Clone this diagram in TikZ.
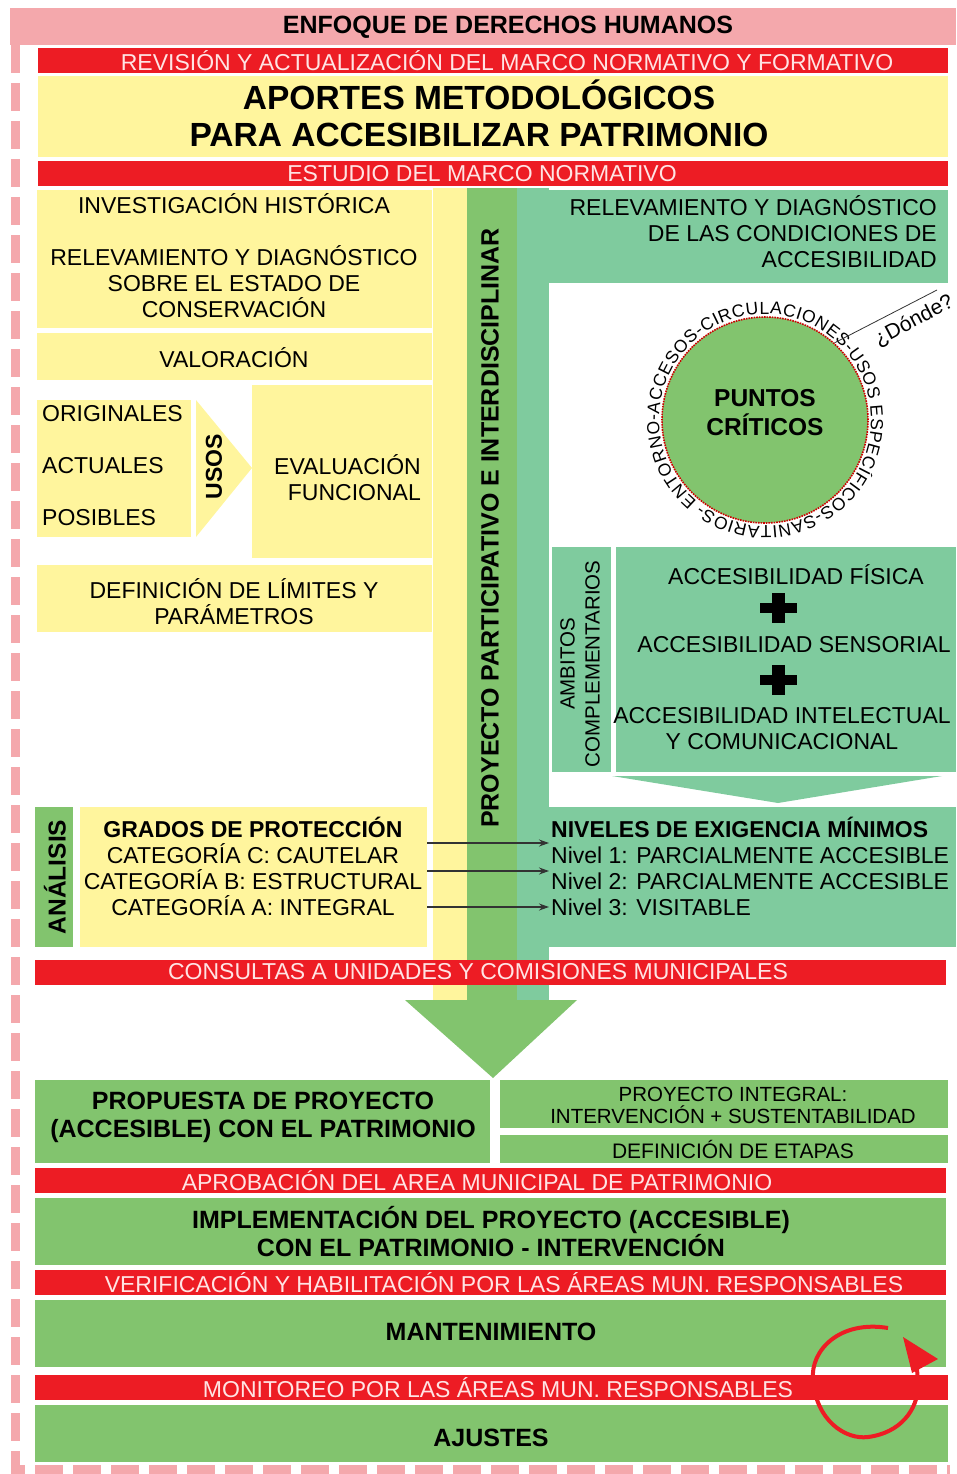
\documentclass[tikz,border=0pt]{standalone}
\usepackage{fontspec}
\setmainfont{Liberation Sans}
\usepackage{tikz}
\usetikzlibrary{arrows.meta,decorations.text}
\definecolor{pinkband}{HTML}{F4A8AC}
\definecolor{redbar}{HTML}{ED1C24}
\definecolor{bartext}{HTML}{FFE4E4}
\definecolor{yellowbox}{HTML}{FFF59D}
\definecolor{greenbox}{HTML}{82C46E}
\definecolor{tealbox}{HTML}{7FCB9E}

\begin{document}
\begin{tikzpicture}[x=1pt,y=-1pt,
  txt/.style={inner sep=0pt,align=center,font=\fontsize{23}{26}\selectfont},
  bartxt/.style={txt,text=bartext},
  boldtxt/.style={txt,font=\fontsize{25}{28}\selectfont\bfseries},
  midtxt/.style={txt,font=\fontsize{23}{26}\selectfont\bfseries},
  link/.style={draw=black!80,line width=1.2pt,-{Stealth[length=10pt,width=7pt]}}]
\useasboundingbox (0,0) rectangle (956,1474);

% frame
\fill[pinkband] (10,8) rectangle (956,45);
\node[txt,font=\fontsize{25}{26}\selectfont\bfseries] (enfoque) at (508,27) {ENFOQUE DE DERECHOS HUMANOS};
\draw[pinkband,line width=9pt,dash pattern=on 28pt off 10pt] (15,45) -- (15,1469) -- (950,1469);

% header
\fill[redbar] (38,48) rectangle (948,73);
\node[bartxt] (revision) at (507,61) {REVISIÓN Y ACTUALIZACIÓN DEL MARCO NORMATIVO Y FORMATIVO};
\fill[yellowbox] (38,76) rectangle (948,157);
\node[txt,font=\fontsize{33.5}{37}\selectfont\bfseries] (titulo) at (479,113) {APORTES METODOLÓGICOS\\PARA ACCESIBILIZAR PATRIMONIO};
\fill[redbar] (38,161) rectangle (948,186);
\node[bartxt] (estudio) at (482,174) {ESTUDIO DEL MARCO NORMATIVO};

% vertical bands
\fill[yellowbox] (433,188) rectangle (467,1000);
\fill[greenbox] (467,188) rectangle (517,1000);
\fill[tealbox] (517,188) rectangle (549,1000);
\node[boldtxt,rotate=90] (proyecto) at (490,528) {PROYECTO PARTICIPATIVO E INTERDISCIPLINAR};

% left column
\fill[yellowbox] (37,190) rectangle (432,328);
\node[txt] (historia) at (234,256) {INVESTIGACIÓN HISTÓRICA\\[26pt]RELEVAMIENTO Y DIAGNÓSTICO\\SOBRE EL ESTADO DE\\CONSERVACIÓN};
\fill[yellowbox] (37,333) rectangle (432,380);
\node[txt] (valoracion) at (234,358) {VALORACIÓN};
\fill[yellowbox] (37,400) rectangle (191,537);
\node[txt,align=left,anchor=west] (usoslista) at (42,466) {ORIGINALES\\[26pt]ACTUALES\\[26pt]POSIBLES};
\fill[yellowbox] (196,400) -- (252,468) -- (196,537) -- cycle;
\node[midtxt,rotate=90] (usos) at (214,467) {USOS};
\fill[yellowbox] (252,385) rectangle (432,558);
\node[txt,align=right,anchor=east] (evaluacion) at (421,478) {EVALUACIÓN\\FUNCIONAL};
\fill[yellowbox] (37,565) rectangle (432,632);
\node[txt] (limites) at (234,602) {DEFINICIÓN DE LÍMITES Y\\PARÁMETROS};

% right column
\fill[tealbox] (549,190) rectangle (948,283);
\node[txt,align=right,anchor=east] (condiciones) at (937,232) {RELEVAMIENTO Y DIAGNÓSTICO\\DE LAS CONDICIONES DE\\ACCESIBILIDAD};
\node[circle,fill=greenbox,draw=red!80!black,densely dotted,line width=1.6pt,minimum size=206pt,inner sep=0pt] (puntos) at (765,420) {};
\node[txt,font=\fontsize{24.5}{29}\selectfont\bfseries] (puntostxt) at (765,413) {PUNTOS\\CRÍTICOS};
\path[decorate,decoration={text along path,text align={fit to path},
  text={|\fontsize{17.5}{18}\selectfont|ENTORNO-ACCESOS-CIRCULACIONES-USOS ESPECÍFICOS-SANITARIOS-}}]
  (puntos.center) ++(130:106) arc[start angle=130,end angle=487,radius=106];
\coordinate (dondefin) at (937,290);
\draw[black!80,line width=0.8pt] (puntos.48) -- (dondefin);
\node[txt,font=\fontsize{21}{24}\selectfont,rotate=28] (donde) at (914,321) {¿Dónde?};

\fill[tealbox] (552,547) rectangle (611,772);
\node[txt,font=\fontsize{20.5}{25}\selectfont,rotate=90] (ambitos) at (580,664) {AMBITOS\\COMPLEMENTARIOS};
\fill[tealbox] (616,547) rectangle (956,772);
\node[txt] (fisica) at (796,575) {ACCESIBILIDAD FÍSICA};
\fill[black] (760,603) rectangle (797,613);
\fill[black] (772,593) rectangle (785,623);
\node[txt] (sensorial) at (794,645) {ACCESIBILIDAD SENSORIAL};
\fill[black] (760,675) rectangle (797,685);
\fill[black] (772,665) rectangle (785,695);
\node[txt] (intelectual) at (782,729) {ACCESIBILIDAD INTELECTUAL\\Y COMUNICACIONAL};
\fill[tealbox] (612,776) -- (942,776) -- (778,803) -- cycle;

% analysis row
\fill[tealbox] (517,807) rectangle (956,947);
\node[txt,align=left,anchor=west] (niveles) at (551,866) {\textbf{NIVELES DE EXIGENCIA MÍNIMOS}\\Nivel 1: PARCIALMENTE ACCESIBLE\\Nivel 2: PARCIALMENTE ACCESIBLE\\Nivel 3: VISITABLE};
\fill[greenbox] (35,807) rectangle (73,947);
\node[txt,font=\fontsize{24.5}{26}\selectfont\bfseries,rotate=90] (analisis) at (55,877) {ANÁLISIS};
\fill[yellowbox] (80,807) rectangle (427,947);
\node[txt] (grados) at (253,866) {\textbf{GRADOS DE PROTECCIÓN}\\CATEGORÍA C: CAUTELAR\\CATEGORÍA B: ESTRUCTURAL\\CATEGORÍA A: INTEGRAL};
\coordinate (catC) at (427,843);
\coordinate (catB) at (427,871);
\coordinate (catA) at (427,907);
\coordinate (nivel1) at (549,843);
\coordinate (nivel2) at (549,871);
\coordinate (nivel3) at (549,907);
\draw[link] (catC) -- (nivel1);
\draw[link] (catB) -- (nivel2);
\draw[link] (catA) -- (nivel3);

\fill[redbar] (35,960) rectangle (946,985);
\node[bartxt] (consultas) at (478,972) {CONSULTAS A UNIDADES Y COMISIONES MUNICIPALES};
\fill[greenbox] (405,1000) -- (577,1000) -- (493,1078) -- cycle;

% project stages
\fill[greenbox] (35,1080) rectangle (490,1163);
\node[boldtxt] (propuesta) at (263,1117) {PROPUESTA DE PROYECTO\\(ACCESIBLE) CON EL PATRIMONIO};
\fill[greenbox] (500,1080) rectangle (948,1128);
\node[txt,font=\fontsize{20.5}{22}\selectfont] (integral) at (733,1105) {PROYECTO INTEGRAL:\\INTERVENCIÓN + SUSTENTABILIDAD};
\fill[greenbox] (500,1135) rectangle (948,1163);
\node[txt,font=\fontsize{21}{22}\selectfont] (etapas) at (733,1149) {DEFINICIÓN DE ETAPAS};
\fill[redbar] (35,1168) rectangle (946,1193);
\node[bartxt] (aprobacion) at (477,1181) {APROBACIÓN DEL AREA MUNICIPAL DE PATRIMONIO};
\fill[greenbox] (35,1198) rectangle (946,1265);
\node[boldtxt] (implementacion) at (491,1232) {IMPLEMENTACIÓN DEL PROYECTO (ACCESIBLE)\\CON EL PATRIMONIO - INTERVENCIÓN};
\fill[redbar] (35,1270) rectangle (946,1295);
\node[bartxt] (verificacion) at (504,1283) {VERIFICACIÓN Y HABILITACIÓN POR LAS ÁREAS MUN. RESPONSABLES};
\fill[greenbox] (35,1300) rectangle (946,1367);
\node[boldtxt] (mantenimiento) at (491,1332) {MANTENIMIENTO};
\fill[redbar] (35,1375) rectangle (948,1400);
\node[bartxt] (monitoreo) at (498,1388) {MONITOREO POR LAS ÁREAS MUN. RESPONSABLES};
\fill[greenbox] (35,1405) rectangle (948,1462);
\node[boldtxt] (ajustes) at (491,1438) {AJUSTES};

% cycle arrow
\draw[redbar,line width=4pt] (888,1328) .. controls (840,1320) and (810,1350) .. (813,1380)
  .. controls (816,1420) and (845,1440) .. (868,1437) .. controls (900,1433) and (918,1410) .. (918,1385) -- (917,1368);
\fill[redbar] (903,1337) -- (938,1359) -- (912,1373) -- cycle;
\end{tikzpicture}
\end{document}
